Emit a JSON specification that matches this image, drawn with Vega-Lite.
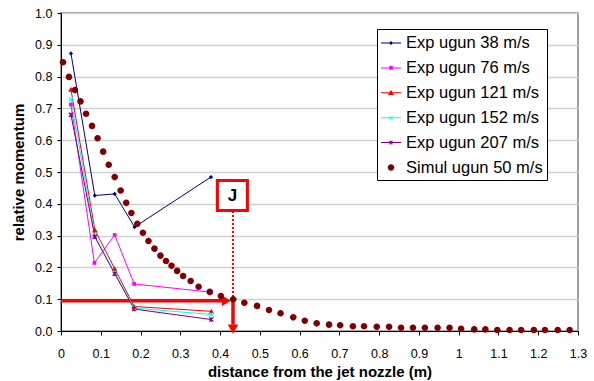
{
  "$schema": "https://vega.github.io/schema/vega-lite/v6.json",
  "width": 517,
  "height": 318,
  "autosize": "none",
  "padding": {"left": 61, "top": 13, "right": 16, "bottom": 50},
  "background": "white",
  "config": {
    "font": "Liberation Sans",
    "view": {"stroke": "#808080", "strokeWidth": 1.5},
    "axis": {
      "domainColor": "black",
      "tickColor": "black",
      "labelColor": "black",
      "titleColor": "black",
      "labelFont": "Liberation Sans",
      "titleFont": "Liberation Sans",
      "labelFontSize": 12.5,
      "titleFontSize": 15,
      "titleFontWeight": "bold",
      "tickSize": 4
    }
  },
  "datasets": {
    "exp": [
      {"series": "Exp ugun 38 m/s", "x": 0.025, "y": 0.873},
      {"series": "Exp ugun 38 m/s", "x": 0.085, "y": 0.426},
      {"series": "Exp ugun 38 m/s", "x": 0.135, "y": 0.431},
      {"series": "Exp ugun 38 m/s", "x": 0.185, "y": 0.327},
      {"series": "Exp ugun 38 m/s", "x": 0.377, "y": 0.484},
      {"series": "Exp ugun 76 m/s", "x": 0.025, "y": 0.712},
      {"series": "Exp ugun 76 m/s", "x": 0.084, "y": 0.214},
      {"series": "Exp ugun 76 m/s", "x": 0.135, "y": 0.302},
      {"series": "Exp ugun 76 m/s", "x": 0.184, "y": 0.148},
      {"series": "Exp ugun 76 m/s", "x": 0.377, "y": 0.122},
      {"series": "Exp ugun 121 m/s", "x": 0.025, "y": 0.760},
      {"series": "Exp ugun 121 m/s", "x": 0.085, "y": 0.318},
      {"series": "Exp ugun 121 m/s", "x": 0.135, "y": 0.196},
      {"series": "Exp ugun 121 m/s", "x": 0.184, "y": 0.077},
      {"series": "Exp ugun 121 m/s", "x": 0.378, "y": 0.062},
      {"series": "Exp ugun 152 m/s", "x": 0.025, "y": 0.728},
      {"series": "Exp ugun 152 m/s", "x": 0.085, "y": 0.300},
      {"series": "Exp ugun 152 m/s", "x": 0.135, "y": 0.184},
      {"series": "Exp ugun 152 m/s", "x": 0.184, "y": 0.072},
      {"series": "Exp ugun 152 m/s", "x": 0.378, "y": 0.052},
      {"series": "Exp ugun 207 m/s", "x": 0.025, "y": 0.680},
      {"series": "Exp ugun 207 m/s", "x": 0.085, "y": 0.296},
      {"series": "Exp ugun 207 m/s", "x": 0.135, "y": 0.180},
      {"series": "Exp ugun 207 m/s", "x": 0.184, "y": 0.069},
      {"series": "Exp ugun 207 m/s", "x": 0.378, "y": 0.036}
    ],
    "simul": [
      {"series": "Simul ugun 50 m/s", "x": 0.005, "y": 0.845},
      {"series": "Simul ugun 50 m/s", "x": 0.020, "y": 0.799},
      {"series": "Simul ugun 50 m/s", "x": 0.035, "y": 0.758},
      {"series": "Simul ugun 50 m/s", "x": 0.049, "y": 0.722},
      {"series": "Simul ugun 50 m/s", "x": 0.063, "y": 0.683},
      {"series": "Simul ugun 50 m/s", "x": 0.078, "y": 0.645},
      {"series": "Simul ugun 50 m/s", "x": 0.092, "y": 0.606},
      {"series": "Simul ugun 50 m/s", "x": 0.106, "y": 0.564},
      {"series": "Simul ugun 50 m/s", "x": 0.120, "y": 0.523},
      {"series": "Simul ugun 50 m/s", "x": 0.135, "y": 0.484},
      {"series": "Simul ugun 50 m/s", "x": 0.150, "y": 0.442},
      {"series": "Simul ugun 50 m/s", "x": 0.164, "y": 0.403},
      {"series": "Simul ugun 50 m/s", "x": 0.177, "y": 0.371},
      {"series": "Simul ugun 50 m/s", "x": 0.192, "y": 0.337},
      {"series": "Simul ugun 50 m/s", "x": 0.206, "y": 0.309},
      {"series": "Simul ugun 50 m/s", "x": 0.220, "y": 0.283},
      {"series": "Simul ugun 50 m/s", "x": 0.235, "y": 0.259},
      {"series": "Simul ugun 50 m/s", "x": 0.250, "y": 0.237},
      {"series": "Simul ugun 50 m/s", "x": 0.264, "y": 0.220},
      {"series": "Simul ugun 50 m/s", "x": 0.278, "y": 0.205},
      {"series": "Simul ugun 50 m/s", "x": 0.292, "y": 0.189},
      {"series": "Simul ugun 50 m/s", "x": 0.307, "y": 0.173},
      {"series": "Simul ugun 50 m/s", "x": 0.326, "y": 0.157},
      {"series": "Simul ugun 50 m/s", "x": 0.346, "y": 0.139},
      {"series": "Simul ugun 50 m/s", "x": 0.374, "y": 0.123},
      {"series": "Simul ugun 50 m/s", "x": 0.402, "y": 0.110},
      {"series": "Simul ugun 50 m/s", "x": 0.433, "y": 0.100},
      {"series": "Simul ugun 50 m/s", "x": 0.461, "y": 0.089},
      {"series": "Simul ugun 50 m/s", "x": 0.493, "y": 0.079},
      {"series": "Simul ugun 50 m/s", "x": 0.523, "y": 0.066},
      {"series": "Simul ugun 50 m/s", "x": 0.552, "y": 0.056},
      {"series": "Simul ugun 50 m/s", "x": 0.584, "y": 0.043},
      {"series": "Simul ugun 50 m/s", "x": 0.613, "y": 0.032},
      {"series": "Simul ugun 50 m/s", "x": 0.643, "y": 0.024},
      {"series": "Simul ugun 50 m/s", "x": 0.674, "y": 0.020},
      {"series": "Simul ugun 50 m/s", "x": 0.702, "y": 0.018},
      {"series": "Simul ugun 50 m/s", "x": 0.734, "y": 0.015},
      {"series": "Simul ugun 50 m/s", "x": 0.762, "y": 0.015},
      {"series": "Simul ugun 50 m/s", "x": 0.794, "y": 0.013},
      {"series": "Simul ugun 50 m/s", "x": 0.825, "y": 0.013},
      {"series": "Simul ugun 50 m/s", "x": 0.855, "y": 0.010},
      {"series": "Simul ugun 50 m/s", "x": 0.885, "y": 0.010},
      {"series": "Simul ugun 50 m/s", "x": 0.915, "y": 0.010},
      {"series": "Simul ugun 50 m/s", "x": 0.947, "y": 0.010},
      {"series": "Simul ugun 50 m/s", "x": 0.977, "y": 0.010},
      {"series": "Simul ugun 50 m/s", "x": 1.006, "y": 0.007},
      {"series": "Simul ugun 50 m/s", "x": 1.039, "y": 0.005},
      {"series": "Simul ugun 50 m/s", "x": 1.067, "y": 0.005},
      {"series": "Simul ugun 50 m/s", "x": 1.097, "y": 0.003},
      {"series": "Simul ugun 50 m/s", "x": 1.128, "y": 0.003},
      {"series": "Simul ugun 50 m/s", "x": 1.157, "y": 0.003},
      {"series": "Simul ugun 50 m/s", "x": 1.189, "y": 0.003},
      {"series": "Simul ugun 50 m/s", "x": 1.217, "y": 0.003},
      {"series": "Simul ugun 50 m/s", "x": 1.249, "y": 0.003},
      {"series": "Simul ugun 50 m/s", "x": 1.279, "y": 0.003}
    ],
    "hline": [{"x": 0, "x2": 0.412, "y": 0.095}],
    "harrow": [{"x": 0.416, "y": 0.095}],
    "dotted": [{"x": 0.4325, "y": 0.377, "y2": 0.1}],
    "vline": [{"x": 0.4325, "y": 0.1, "y2": 0.02}],
    "varrow": [{"x": 0.4325, "y": 0.006}],
    "jbox": [{"x": 0.431, "y": 0.426, "label": "J"}]
  },
  "encoding": {
    "x": {
      "field": "x", "type": "quantitative",
      "scale": {"domain": [0, 1.3], "nice": false, "zero": false},
      "axis": {
        "title": "distance from the jet nozzle (m)",
        "values": [0, 0.1, 0.2, 0.3, 0.4, 0.5, 0.6, 0.7, 0.8, 0.9, 1, 1.1, 1.2, 1.3],
        "format": "~g",
        "grid": false, "labelPadding": 12, "titlePadding": 5, "labelFlush": false
      }
    },
    "y": {
      "field": "y", "type": "quantitative",
      "scale": {"domain": [0, 1], "nice": false},
      "axis": {
        "title": "relative momentum",
        "values": [0, 0.1, 0.2, 0.3, 0.4, 0.5, 0.6, 0.7, 0.8, 0.9, 1],
        "format": ".1f",
        "grid": true, "gridColor": "#cfcfcf", "gridWidth": 1.5,
        "labelPadding": 5, "titlePadding": 8, "labelFlush": false
      }
    }
  },
  "layer": [
    {
      "data": {"name": "hline"},
      "mark": {"type": "rule", "color": "#ff0000", "strokeWidth": 3.5},
      "encoding": {"x2": {"field": "x2"}}
    },
    {
      "data": {"name": "harrow"},
      "mark": {"type": "point", "shape": "triangle-right", "filled": true, "color": "#ff0000", "size": 110, "opacity": 1}
    },
    {
      "data": {"name": "dotted"},
      "mark": {"type": "rule", "color": "#ff0000", "strokeWidth": 2, "strokeDash": [2, 2]},
      "encoding": {"y2": {"field": "y2"}}
    },
    {
      "data": {"name": "vline"},
      "mark": {"type": "rule", "color": "#ff0000", "strokeWidth": 3.5},
      "encoding": {"y2": {"field": "y2"}}
    },
    {
      "data": {"name": "varrow"},
      "mark": {"type": "point", "shape": "triangle-down", "filled": true, "color": "#ff0000", "size": 110, "opacity": 1}
    },
    {
      "data": {"name": "exp"},
      "mark": {"type": "line", "strokeWidth": 1},
      "encoding": {
        "detail": {"field": "series", "type": "nominal"},
        "stroke": {
          "field": "series", "type": "nominal",
          "scale": {
            "domain": ["Exp ugun 38 m/s", "Exp ugun 76 m/s", "Exp ugun 121 m/s", "Exp ugun 152 m/s", "Exp ugun 207 m/s"],
            "range": ["#000080", "#ff00ff", "#ff0000", "#00ffff", "#800080"]
          },
          "legend": null
        }
      }
    },
    {
      "data": {"name": "exp"},
      "transform": [{"filter": "datum.series == 'Exp ugun 38 m/s'"}],
      "mark": {"type": "point", "shape": "diamond", "filled": true, "color": "#000080", "size": 18, "opacity": 1}
    },
    {
      "data": {"name": "exp"},
      "transform": [{"filter": "datum.series == 'Exp ugun 76 m/s'"}],
      "mark": {"type": "point", "shape": "square", "filled": true, "color": "#ff00ff", "size": 14, "opacity": 1}
    },
    {
      "data": {"name": "exp"},
      "transform": [{"filter": "datum.series == 'Exp ugun 121 m/s'"}],
      "mark": {"type": "point", "shape": "triangle-up", "filled": true, "color": "#ff0000", "size": 32, "opacity": 1}
    },
    {
      "data": {"name": "exp"},
      "transform": [{"filter": "datum.series == 'Exp ugun 152 m/s'"}],
      "mark": {"type": "point", "shape": "M-1,-1L1,1M-1,1L1,-1", "filled": false, "color": "#00ffff", "strokeWidth": 1.2, "size": 16, "opacity": 1}
    },
    {
      "data": {"name": "exp"},
      "transform": [{"filter": "datum.series == 'Exp ugun 207 m/s'"}],
      "mark": {"type": "point", "shape": "M-1,-1L1,1M-1,1L1,-1M0,-1L0,1", "filled": false, "color": "#800080", "strokeWidth": 1.2, "size": 18, "opacity": 1}
    },
    {
      "data": {"name": "simul"},
      "mark": {"type": "point", "filled": true, "opacity": 1, "size": 400},
      "encoding": {
        "color": {
          "field": "series", "type": "nominal",
          "scale": {
            "domain": ["Exp ugun 38 m/s", "Exp ugun 76 m/s", "Exp ugun 121 m/s", "Exp ugun 152 m/s", "Exp ugun 207 m/s", "Simul ugun 50 m/s"],
            "range": ["#000080", "#ff00ff", "#ff0000", "#00ffff", "#800080", "#800000"]
          },
          "legend": {
            "title": null,
            "orient": "none",
            "legendX": 316,
            "legendY": 16,
            "padding": 4,
            "rowPadding": 5.9,
            "symbolSize": 400,
            "symbolStrokeWidth": 0,
            "labelFont": "Liberation Sans",
            "labelFontSize": 16.5,
            "labelColor": "black",
            "labelOffset": 5,
            "labelLimit": 300,
            "strokeColor": "black",
            "fillColor": "white"
          }
        },
        "shape": {
          "field": "series", "type": "nominal",
          "scale": {
            "domain": ["Exp ugun 38 m/s", "Exp ugun 76 m/s", "Exp ugun 121 m/s", "Exp ugun 152 m/s", "Exp ugun 207 m/s", "Simul ugun 50 m/s"],
            "range": [
              "M-1,-0.05H1V0.05H-1ZM0,-0.2L0.2,0L0,0.2L-0.2,0Z",
              "M-1,-0.05H1V0.05H-1ZM-0.18,-0.18H0.18V0.18H-0.18Z",
              "M-1,-0.05H1V0.05H-1ZM0,-0.3L0.3,0.22L-0.3,0.22Z",
              "M-1,-0.05H1V0.05H-1ZM-0.2,-0.15L-0.15,-0.2L0,-0.05L0.15,-0.2L0.2,-0.15L0.05,0L0.2,0.15L0.15,0.2L0,0.05L-0.15,0.2L-0.2,0.15L-0.05,0Z",
              "M-1,-0.05H1V0.05H-1ZM-0.2,-0.15L-0.15,-0.2L0,-0.05L0.15,-0.2L0.2,-0.15L0.05,0L0.2,0.15L0.15,0.2L0,0.05L-0.15,0.2L-0.2,0.15L-0.05,0ZM-0.04,-0.22H0.04V0.22H-0.04Z",
              "M0.33,0A0.33,0.33,0,1,1,-0.33,0A0.33,0.33,0,1,1,0.33,0Z"
            ]
          },
          "legend": {"title": null}
        }
      }
    },
    {
      "data": {"name": "jbox"},
      "mark": {"type": "point", "shape": "square", "filled": false, "fill": "white", "fillOpacity": 1, "stroke": "#ff0000", "strokeWidth": 3, "size": 900, "opacity": 1}
    },
    {
      "data": {"name": "jbox"},
      "mark": {"type": "text", "font": "Liberation Sans", "fontWeight": "bold", "fontSize": 17, "color": "black", "baseline": "middle", "align": "center"},
      "encoding": {"text": {"field": "label"}}
    }
  ]
}
